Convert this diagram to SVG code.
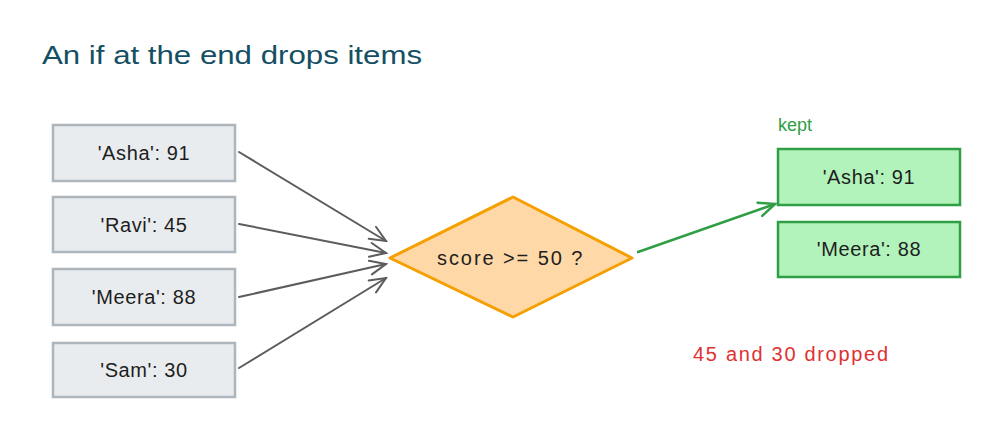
<svg xmlns="http://www.w3.org/2000/svg" width="1000" height="438" viewBox="0 0 1000 438">
<style>
text{font-family:"Liberation Sans","DejaVu Sans",sans-serif;}
.in rect{fill:#e9ecef;stroke:#adb5bd;stroke-width:2.5;}
.out rect{fill:#b2f2bb;stroke:#2f9e44;stroke-width:2.5;}
.lbl{font-size:20px;letter-spacing:0.6px;fill:#1e1e1e;text-anchor:middle;dominant-baseline:central;}
.gray{stroke:#5c5c5c;stroke-width:2;fill:none;stroke-linecap:round;}
.green{stroke:#2f9e44;stroke-width:2.5;fill:none;stroke-linecap:round;}
</style>
<defs>
<marker id="ag" viewBox="0 0 20 20" refX="18" refY="10" markerWidth="20" markerHeight="20" markerUnits="userSpaceOnUse" orient="auto">
<path d="M2,3 L18,10 L2,17" fill="none" stroke="#5c5c5c" stroke-width="2" stroke-linecap="round"/>
</marker>
<marker id="agr" viewBox="0 0 20 20" refX="18" refY="10" markerWidth="20" markerHeight="20" markerUnits="userSpaceOnUse" orient="auto">
<path d="M2,3 L18,10 L2,17" fill="none" stroke="#2f9e44" stroke-width="2.5" stroke-linecap="round"/>
</marker>
</defs>
<rect width="1000" height="438" fill="#ffffff"/>
<text id="title" x="42" y="64" font-size="26" fill="#154f63" textLength="380" lengthAdjust="spacingAndGlyphs">An if at the end drops items</text>

<g id="connectors">
<path class="gray" d="M239,152 L386,241" marker-end="url(#ag)"/>
<path class="gray" d="M239,224 L386,253" marker-end="url(#ag)"/>
<path class="gray" d="M239,297 L386,264" marker-end="url(#ag)"/>
<path class="gray" d="M239,368 L386,278" marker-end="url(#ag)"/>
<path class="green" d="M638,252 L775,204" marker-end="url(#agr)"/>
</g>

<g id="in-asha" class="in"><rect x="53" y="125" width="182" height="56"/><text class="lbl" x="144" y="153">'Asha': 91</text></g>
<g id="in-ravi" class="in"><rect x="53" y="197" width="182" height="55"/><text class="lbl" x="144" y="225">'Ravi': 45</text></g>
<g id="in-meera" class="in"><rect x="53" y="269" width="182" height="56"/><text class="lbl" x="144" y="297">'Meera': 88</text></g>
<g id="in-sam" class="in"><rect x="53" y="343" width="182" height="54"/><text class="lbl" x="144" y="370">'Sam': 30</text></g>

<g id="decision">
<polygon points="390,258 513,197 632,258 513,317" fill="#ffd8a8" stroke="#f59f00" stroke-width="3" stroke-linejoin="round"/>
<text class="lbl" x="510" y="258" textLength="146" lengthAdjust="spacing">score &gt;= 50 ?</text>
</g>

<g id="kept-label"><text x="778" y="131" font-size="18" fill="#2f9e44">kept</text></g>
<g id="out-asha" class="out"><rect x="778" y="149" width="182" height="56"/><text class="lbl" x="869" y="177">'Asha': 91</text></g>
<g id="out-meera" class="out"><rect x="778" y="222" width="182" height="55"/><text class="lbl" x="869" y="249">'Meera': 88</text></g>

<g id="dropped"><text x="693" y="361" font-size="20" fill="#e03131" textLength="195" lengthAdjust="spacing">45 and 30 dropped</text></g>
</svg>
